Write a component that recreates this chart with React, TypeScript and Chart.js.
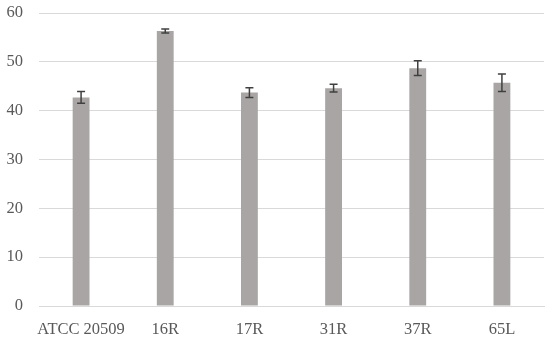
import React, { useEffect, useRef } from "react";
import { Chart, registerables } from "chart.js";

Chart.register(...registerables);

const categories = ["ATCC 20509", "16R", "17R", "31R", "37R", "65L"];
const values = [42.7, 56.3, 43.7, 44.6, 48.7, 45.7];
const errors = [1.2, 0.4, 1.0, 0.8, 1.5, 1.8];
const yTicks = [0, 10, 20, 30, 40, 50, 60];

const errorBarPlugin = {
  id: "errorBars",
  afterDatasetsDraw(chart: any) {
    const ctx = chart.ctx;
    const meta = chart.getDatasetMeta(0);
    const y = chart.scales.y;
    ctx.save();
    ctx.strokeStyle = "#404040";
    ctx.lineWidth = 1.5;
    meta.data.forEach((bar: any, i: number) => {
      const x = bar.x;
      const top = y.getPixelForValue(values[i] + errors[i]);
      const bot = y.getPixelForValue(values[i] - errors[i]);
      const cap = 4;
      ctx.beginPath();
      ctx.moveTo(x, top);
      ctx.lineTo(x, bot);
      ctx.moveTo(x - cap, top);
      ctx.lineTo(x + cap, top);
      ctx.moveTo(x - cap, bot);
      ctx.lineTo(x + cap, bot);
      ctx.stroke();
    });
    ctx.restore();
  },
};

export default function App() {
  const ref = useRef<HTMLCanvasElement>(null);
  useEffect(() => {
    document.body.style.margin = "0";
    const chart = new Chart(ref.current!, {
      type: "bar",
      data: {
        labels: categories,
        datasets: [
          {
            data: values,
            backgroundColor: "#a9a5a4",
            categoryPercentage: 0.2,
            barPercentage: 1,
          },
        ],
      },
      options: {
        animation: false,
        responsive: false,
        layout: { padding: { top: 13, right: 6, left: 0, bottom: 0 } },
        plugins: { legend: { display: false }, tooltip: { enabled: false } },
        scales: {
          x: {
            grid: { display: false, drawTicks: false },
            border: { color: "#d9d9d9", width: 1 },
            ticks: {
              color: "#595959",
              font: { family: "Liberation Serif", size: 16.5 },
              padding: 14,
              maxRotation: 0,
              minRotation: 0,
              autoSkip: false,
            },
            afterFit(scale: any) {
              scale.height = 35;
            },
          },
          y: {
            min: 0,
            max: 60,
            grid: { color: "#d9d9d9", lineWidth: 1, drawTicks: false },
            border: { display: false },
            afterBuildTicks(scale: any) {
              scale.ticks = yTicks.map((v) => ({ value: v }));
            },
            ticks: {
              color: "#595959",
              font: { family: "Liberation Serif", size: 16.5 },
              padding: 16,
            },
            afterFit(scale: any) {
              scale.width = 39;
              scale.paddingTop = 0;
              scale.paddingBottom = 0;
            },
          },
        },
      },
      plugins: [errorBarPlugin],
    });
    return () => chart.destroy();
  }, []);
  return (
    <div style={{ width: 550, height: 341 }}>
      <canvas ref={ref} width={550} height={341} />
    </div>
  );
}
